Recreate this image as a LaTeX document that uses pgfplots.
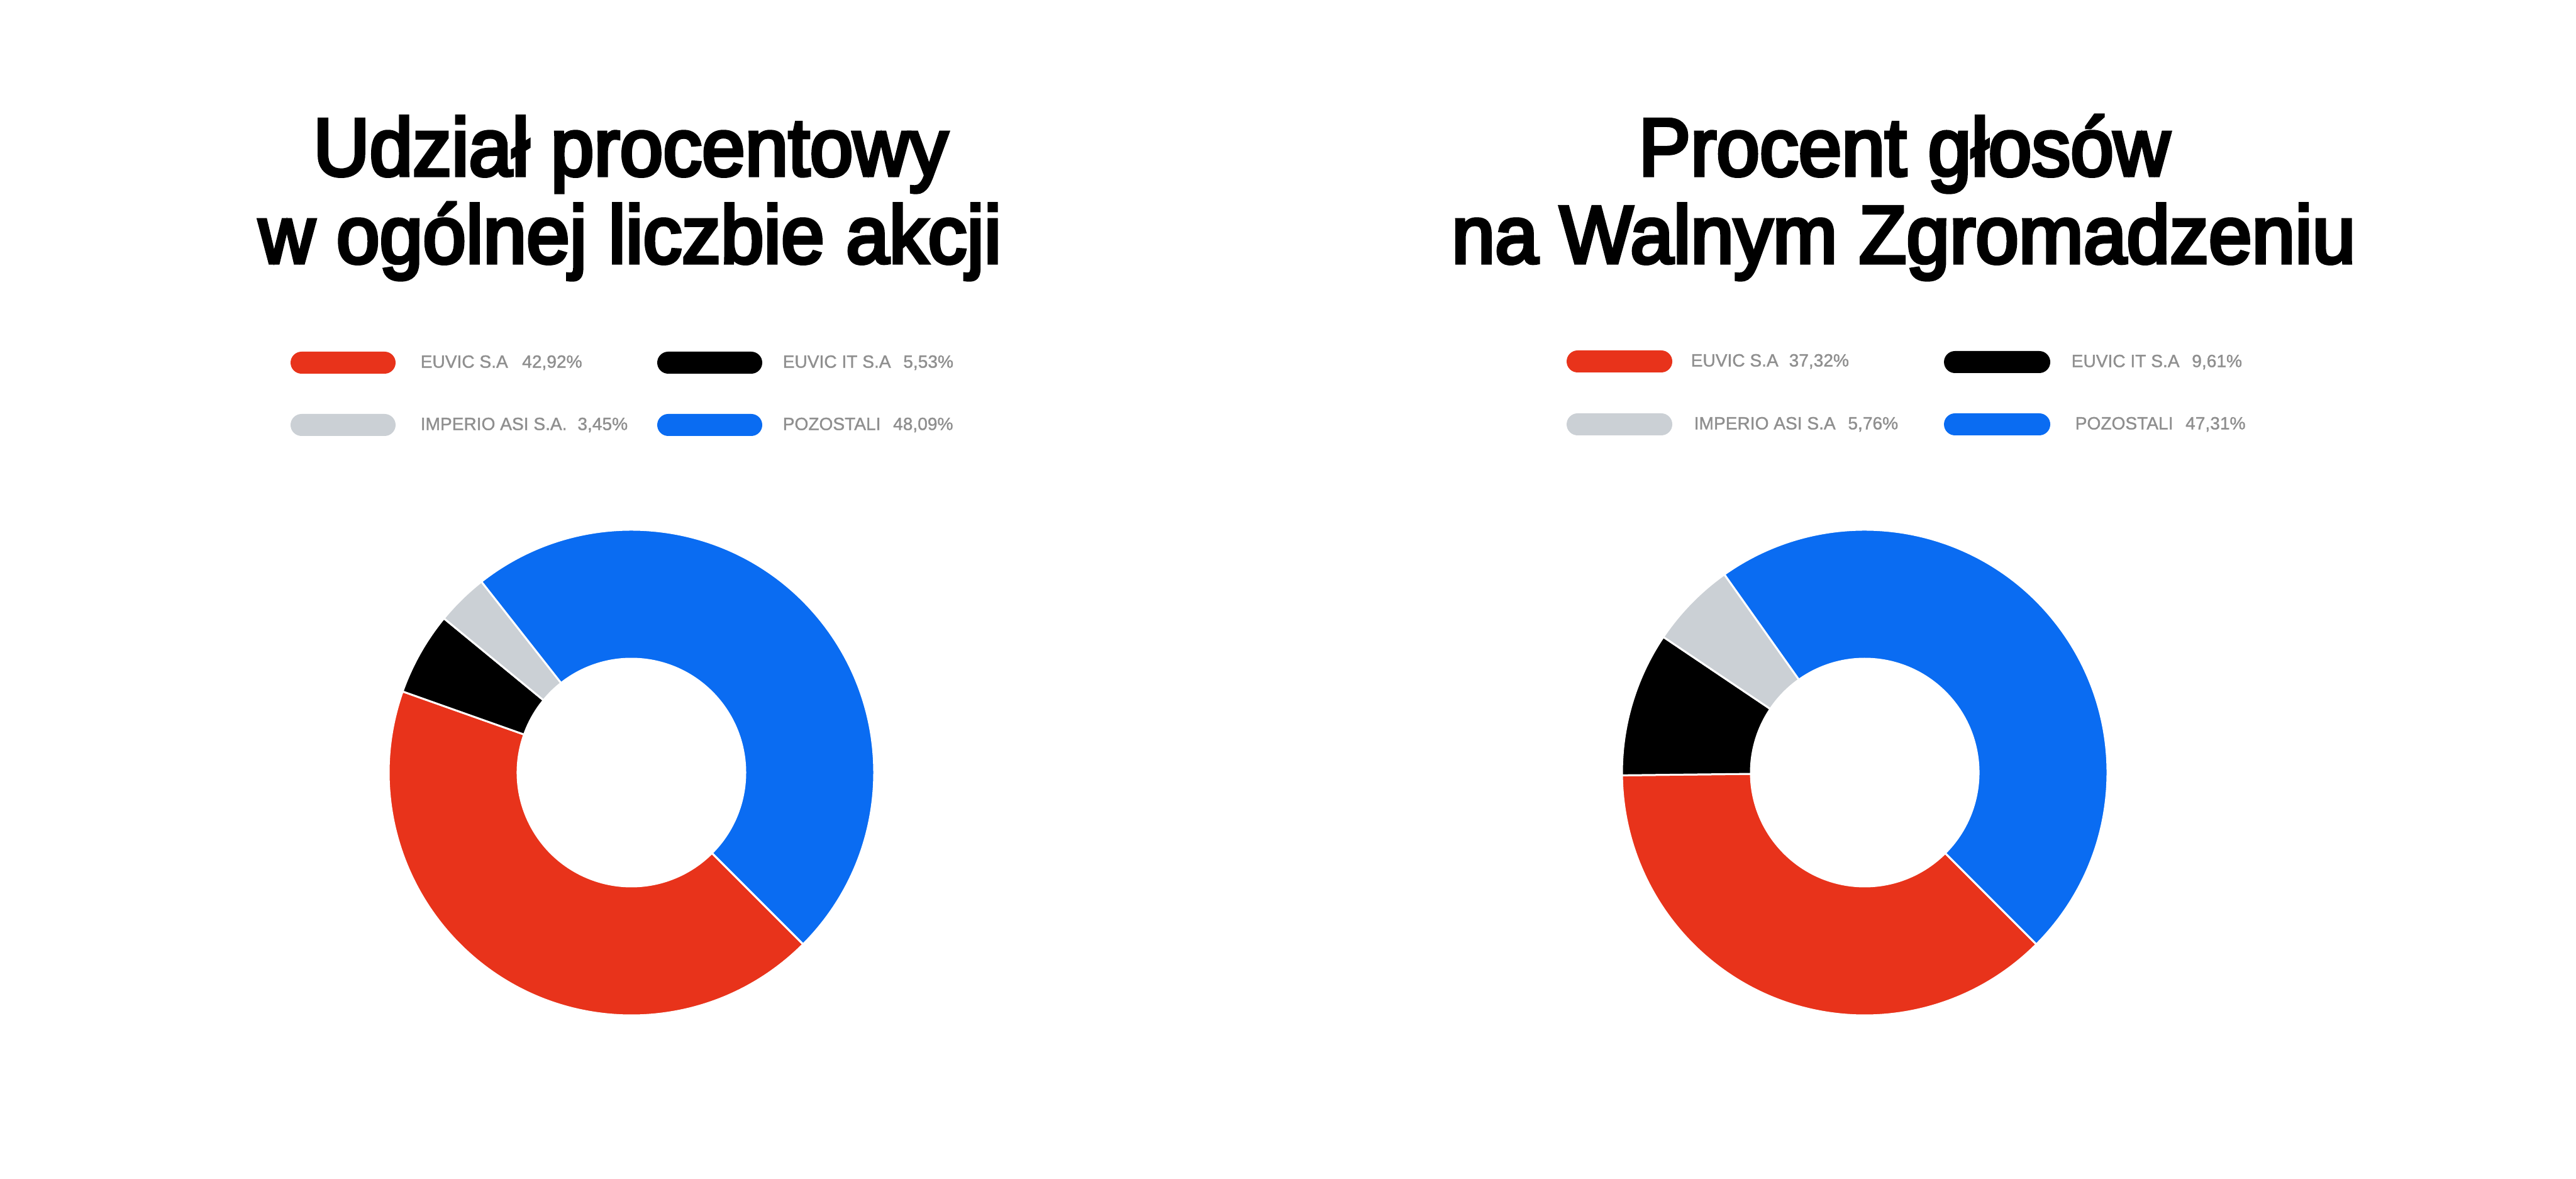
\documentclass[border=0pt]{standalone}
\usepackage{pgfplots}
\pgfplotsset{compat=1.18}
\usepackage{pgfplotstable}
\usepackage{fontspec}
\setmainfont{Liberation Sans}
\newfontfamily\titlefont{Liberation Sans}[FakeStretch=0.95, FakeBold=4.2]
\newfontfamily\legendfont{Liberation Sans}[FakeBold=1.2]

\definecolor{cred}{HTML}{E8331B}
\definecolor{cblue}{HTML}{0A6CF2}
\definecolor{cgray}{HTML}{CBD0D5}
\definecolor{ctext}{HTML}{8F8F8F}

% shares in percent, drawn clockwise from -45 deg
\pgfplotstableread[col sep=comma, row sep=\\]{
name,share,color\\
EUVIC S.A,42.92,cred\\
EUVIC IT S.A,5.53,black\\
IMPERIO ASI S.A.,3.45,cgray\\
POZOSTALI,48.09,cblue\\
}\akcje
\pgfplotstableread[col sep=comma, row sep=\\]{
name,share,color\\
EUVIC S.A,37.32,cred\\
EUVIC IT S.A,9.61,black\\
IMPERIO ASI S.A,5.76,cgray\\
POZOSTALI,47.31,cblue\\
}\glosy

\def\rout{3.86}
\def\rin{1.81}
\pgfmathsetmacro\rdiff{\rout-\rin}

% #1 table, #2 #3 centre in axis units
\newcommand\donut[3]{%
  \def\ang{-45}%
  \pgfplotstablegetrowsof{#1}%
  \pgfmathtruncatemacro\lastrow{\pgfplotsretval-1}%
  \pgfplotsforeachungrouped \k in {0,...,\lastrow}{%
    \pgfplotstablegetelem{\k}{share}\of{#1}\let\slicev\pgfplotsretval
    \pgfplotstablegetelem{\k}{color}\of{#1}\let\slicecol\pgfplotsretval
    \pgfmathsetmacro\angb{\ang-3.6*\slicev}%
    \edef\cmd{\noexpand\filldraw[fill=\slicecol, draw=white, line width=0.03cm]
      (axis cs:#2,#3) ++(\ang:\rout cm)
      arc[start angle=\ang, end angle=\angb, radius=\rout cm]
      -- ++(\angb:-\rdiff cm)
      arc[start angle=\angb, end angle=\ang, radius=\rin cm] -- cycle;}%
    \cmd
    \let\ang\angb
  }%
}

\tikzset{
  ttl/.style={font=\titlefont\fontsize{37}{37}\selectfont, anchor=base, inner sep=0},
  lg/.style={font=\legendfont\fontsize{8}{8}\selectfont, text=ctext, anchor=west, inner sep=0},
  pill/.style={rounded corners=0.175cm},
}

\begin{document}
\begin{tikzpicture}
\begin{axis}[
    x=1cm, y=1cm,
    xmin=0, xmax=40.96, ymin=0, ymax=18.73,
    hide axis, scale only axis, clip=false,
    at={(0,0)}, anchor=south west,
  ]
  % titles
  \node[ttl] at (axis cs:10.03,15.94) {Udział procentowy};
  \node[ttl] at (axis cs:10.02,14.55) {w ogólnej liczbie akcji};
  \node[ttl] at (axis cs:30.28,15.94) {Procent głosów};
  \node[ttl] at (axis cs:30.27,14.55) {na Walnym Zgromadzeniu};

  % legend left
  \fill[cred, pill]  (axis cs:4.62,12.79) rectangle (axis cs:6.29,13.14);
  \fill[black, pill] (axis cs:10.45,12.79) rectangle (axis cs:12.12,13.14);
  \fill[cgray, pill] (axis cs:4.62,11.80) rectangle (axis cs:6.29,12.15);
  \fill[cblue, pill] (axis cs:10.45,11.80) rectangle (axis cs:12.12,12.15);
  \node[lg] at (axis cs:6.68,12.965) {EUVIC S.A\hspace{0.8em}42,92\%};
  \node[lg] at (axis cs:12.44,12.965) {EUVIC IT S.A\hspace{0.7em}5,53\%};
  \node[lg] at (axis cs:6.68,11.975) {IMPERIO ASI S.A.\hspace{0.6em}3,45\%};
  \node[lg] at (axis cs:12.44,11.975) {POZOSTALI\hspace{0.7em}48,09\%};

  % legend right
  \fill[cred, pill]  (axis cs:24.91,12.81) rectangle (axis cs:26.59,13.16);
  \fill[black, pill] (axis cs:30.91,12.80) rectangle (axis cs:32.60,13.15);
  \fill[cgray, pill] (axis cs:24.91,11.81) rectangle (axis cs:26.59,12.16);
  \fill[cblue, pill] (axis cs:30.91,11.81) rectangle (axis cs:32.60,12.16);
  \node[lg] at (axis cs:26.88,12.985) {EUVIC S.A\hspace{0.6em}37,32\%};
  \node[lg] at (axis cs:32.93,12.975) {EUVIC IT S.A\hspace{0.7em}9,61\%};
  \node[lg] at (axis cs:26.93,11.985) {IMPERIO ASI S.A\hspace{0.7em}5,76\%};
  \node[lg] at (axis cs:32.99,11.985) {POZOSTALI\hspace{0.7em}47,31\%};

  % donuts
  \donut{\akcje}{10.04}{6.45}
  \donut{\glosy}{29.65}{6.45}
\end{axis}
\pgfresetboundingbox
\path (0,0) rectangle (40.96cm,18.73cm);
\end{tikzpicture}
\end{document}
